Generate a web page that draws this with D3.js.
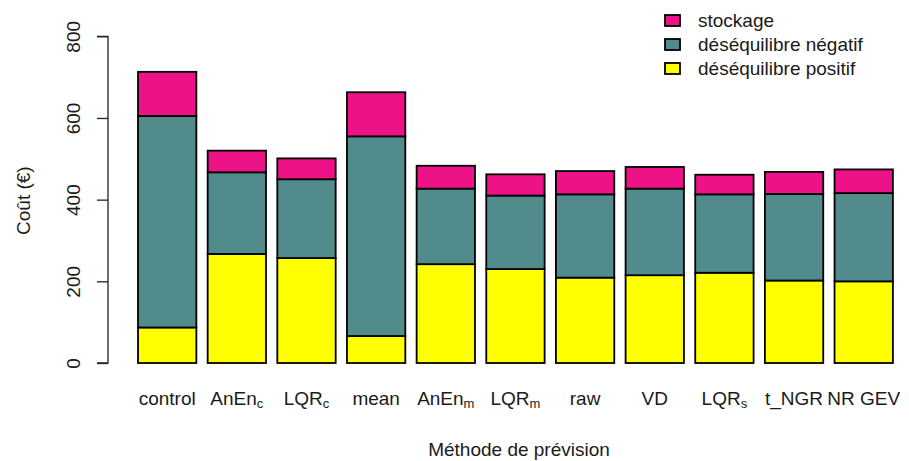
<!DOCTYPE html>
<html>
<head>
<meta charset="utf-8">
<script src="https://cdn.jsdelivr.net/npm/d3@7"></script>
<style>
  body { margin: 0; background: #fff; }
  text { font-family: "Liberation Sans", Arial, sans-serif; fill: #1a1a1a; }
</style>
</head>
<body>
<svg id="chart" width="909" height="461"></svg>
<script>
// Forecast methods (label base + optional subscript)
const methods = ["control", "AnEn_c", "LQR_c", "mean", "AnEn_m", "LQR_m", "raw", "VD", "LQR_s", "t_NGR", "NR GEV"];
const methodBase = ["control", "AnEn", "LQR", "mean", "AnEn", "LQR", "raw", "VD", "LQR", "t_NGR", "NR GEV"];
const methodSub  = ["", "c", "c", "", "m", "m", "", "", "s", "", ""];

// Cost components (€)
const desequilibrePositif = [87, 267, 257, 66, 242, 230, 209, 215, 221, 202, 200];
const desequilibreNegatif = [518, 200, 193, 489, 185, 180, 204, 212, 192, 212, 216];
const stockage            = [108, 53, 51, 108, 56, 52, 57, 53, 48, 54, 58];

const seriesKeys   = ["pos", "neg", "sto"];
const seriesLabels = ["déséquilibre positif", "déséquilibre négatif", "stockage"];
const seriesColors = ["#FFFF00", "#528B8B", "#EE1289"];
const yTicks = [0, 200, 400, 600, 800];

const FS = 19;

const rows = methods.map((m, i) => ({
  method: m, pos: desequilibrePositif[i], neg: desequilibreNegatif[i], sto: stockage[i]
}));

const svg = d3.select("#chart");

const x = d3.scaleBand()
  .domain(methods)
  .range([126.7, 904.2])
  .paddingInner(1 - 58.3 / 69.6)
  .paddingOuter(1 - 58.3 / 69.6);

const y = d3.scaleLinear().domain([0, 800]).range([363, 36.3]);

const stacked = d3.stack().keys(seriesKeys)(rows);

// Bars
svg.append("g").selectAll("g")
  .data(stacked)
  .join("g")
  .attr("fill", (d, i) => seriesColors[i])
  .selectAll("rect")
  .data(d => d)
  .join("rect")
  .attr("x", d => x(d.data.method))
  .attr("y", d => y(d[1]))
  .attr("width", x.bandwidth())
  .attr("height", d => y(d[0]) - y(d[1]))
  .attr("stroke", "#000")
  .attr("stroke-width", 1.8);

// Y axis
const yAxis = svg.append("g")
  .attr("transform", "translate(108,0)")
  .call(d3.axisLeft(y).tickValues(yTicks).tickSize(11).tickPadding(0).tickFormat(d3.format("d")));
yAxis.select(".domain").attr("stroke", "#222").attr("stroke-width", 1.3).attr("d", `M-11,${y(800)}H0V${y(0)}H-11`);
yAxis.selectAll(".tick line").attr("stroke", "#222").attr("stroke-width", 1.3);
yAxis.selectAll(".tick text")
  .attr("transform", "translate(-35,0) rotate(-90)")
  .attr("x", 0).attr("y", 0).attr("dy", "0.35em")
  .attr("text-anchor", "middle")
  .style("font-size", FS + "px")
  .style("font-family", "Liberation Sans, Arial, sans-serif")
  .attr("fill", "#1a1a1a");

// Y axis title
svg.append("text")
  .attr("transform", `translate(23,${(y(0) + y(800)) / 2 + 1}) rotate(-90)`)
  .attr("text-anchor", "middle")
  .attr("dy", "0.35em")
  .style("font-size", FS + "px")
  .text("Coût (€)");

// X category labels with subscripts
const xl = svg.append("g").selectAll("text")
  .data(methods)
  .join("text")
  .attr("x", d => x(d) + x.bandwidth() / 2)
  .attr("y", 405)
  .attr("text-anchor", "middle")
  .style("font-size", FS + "px");
xl.append("tspan").text((d, i) => methodBase[i]);
xl.append("tspan")
  .attr("dy", 3)
  .style("font-size", "13px")
  .text((d, i) => methodSub[i]);

// X axis title
svg.append("text")
  .attr("x", 519)
  .attr("y", 456)
  .attr("text-anchor", "middle")
  .style("font-size", FS + "px")
  .text("Méthode de prévision");

// Legend (stockage on top)
const legendOrder = [2, 1, 0];
const lg = svg.append("g").selectAll("g")
  .data(legendOrder)
  .join("g")
  .attr("transform", (d, i) => `translate(665,${20.5 + i * 24})`);
lg.append("rect")
  .attr("x", 0).attr("y", -5.5)
  .attr("width", 15).attr("height", 11)
  .attr("fill", d => seriesColors[d])
  .attr("stroke", "#000").attr("stroke-width", 1.8);
lg.append("text")
  .attr("x", 33).attr("y", 0).attr("dy", "0.35em")
  .style("font-size", FS + "px")
  .text(d => seriesLabels[d]);
</script>
</body>
</html>
